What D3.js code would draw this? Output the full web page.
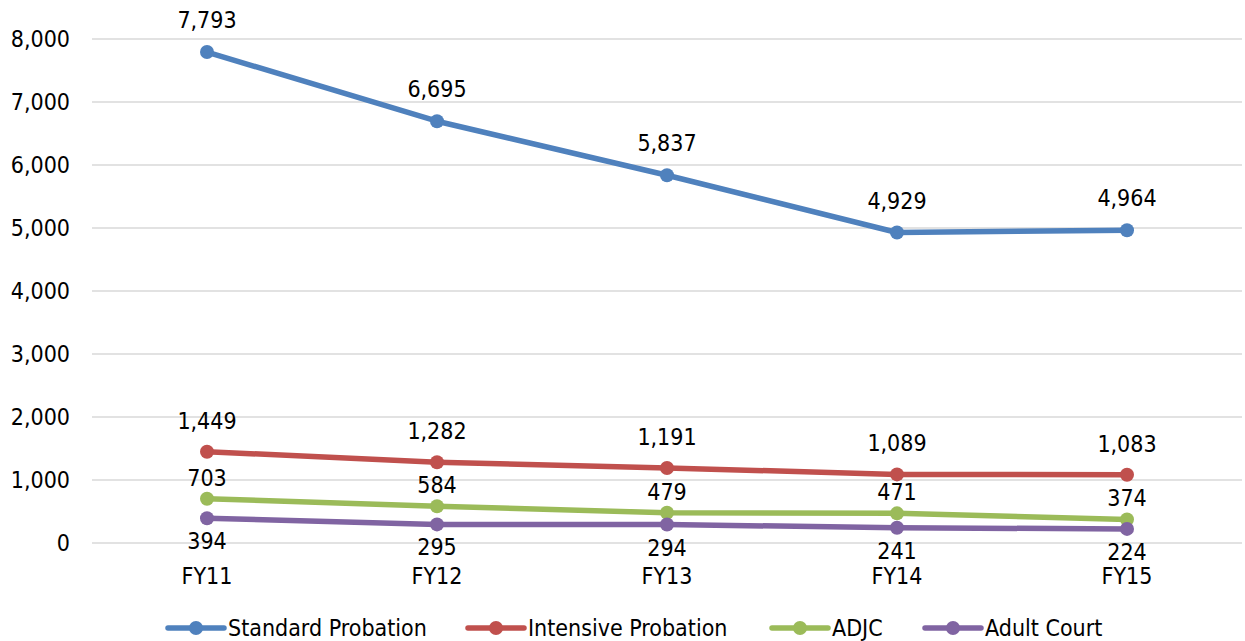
<!DOCTYPE html>
<html>
<head>
<meta charset="utf-8">
<script src="https://cdn.jsdelivr.net/npm/d3@7"></script>
<style>
  html, body { margin: 0; padding: 0; background: #fff; }
  svg { display: block; }
  svg text { font-family: "DejaVu Sans Condensed", "DejaVu Sans", sans-serif; font-stretch: condensed; }
</style>
</head>
<body>
<svg id="chart" width="1245" height="641"></svg>
<script>
// Caseload counts by fiscal year
const years = ["FY11", "FY12", "FY13", "FY14", "FY15"];
const standardProbation = [7793, 6695, 5837, 4929, 4964];
const intensiveProbation = [1449, 1282, 1191, 1089, 1083];
const adjc = [703, 584, 479, 471, 374];
const adultCourt = [394, 295, 294, 241, 224];
const yTicks = [0, 1000, 2000, 3000, 4000, 5000, 6000, 7000, 8000];

const series = [
  { name: "Standard Probation", values: standardProbation, color: "#4F81BD", dy: -32 },
  { name: "Intensive Probation", values: intensiveProbation, color: "#C0504D", dy: -31 },
  { name: "ADJC", values: adjc, color: "#9BBB59", dy: -21 },
  { name: "Adult Court", values: adultCourt, color: "#8064A2", dy: 23 }
];

const fontSize = 23;
const svg = d3.select("#chart");
const plotLeft = 92, plotRight = 1242, plotTop = 39, plotBottom = 543;

const x = d3.scaleBand().domain(years).range([plotLeft, plotRight]);
const y = d3.scaleLinear().domain([0, 8000]).range([plotBottom, plotTop]);
const fmt = d3.format(",");

// Gridlines
svg.append("g")
  .selectAll("line")
  .data(yTicks)
  .join("line")
  .attr("x1", plotLeft).attr("x2", plotRight)
  .attr("y1", d => y(d)).attr("y2", d => y(d))
  .attr("stroke", "#d9d9d9").attr("stroke-width", 1.5);

// Y axis labels
const yAxis = svg.append("g")
  .attr("transform", `translate(${plotLeft - 22},0)`)
  .call(d3.axisLeft(y).tickValues(yTicks).tickFormat(fmt).tickSize(0).tickPadding(0));
yAxis.select(".domain").remove();
yAxis.selectAll("text")
  .attr("font-size", fontSize).attr("fill", "#000")
  .attr("font-family", null);

// X axis labels
const xAxis = svg.append("g")
  .attr("transform", `translate(0,576)`)
  .call(d3.axisBottom(x).tickSize(0).tickPadding(0));
xAxis.select(".domain").remove();
xAxis.selectAll("text")
  .attr("dy", "0.35em")
  .attr("font-size", fontSize).attr("fill", "#000")
  .attr("font-family", null);

const cx = d => x(d) + x.bandwidth() / 2;
const line = d3.line().x(d => cx(d.year)).y(d => y(d.value));

series.forEach(s => {
  const pts = years.map((yr, i) => ({ year: yr, value: s.values[i] }));
  const g = svg.append("g");
  g.append("path")
    .datum(pts)
    .attr("d", line)
    .attr("fill", "none")
    .attr("stroke", s.color)
    .attr("stroke-width", 5.5)
    .attr("stroke-linejoin", "round")
    .attr("stroke-linecap", "round");
  g.selectAll("circle")
    .data(pts)
    .join("circle")
    .attr("cx", d => cx(d.year))
    .attr("cy", d => y(d.value))
    .attr("r", 7)
    .attr("fill", s.color);
  g.selectAll("text")
    .data(pts)
    .join("text")
    .attr("x", d => cx(d.year))
    .attr("y", d => y(d.value) + s.dy)
    .attr("dy", "0.35em")
    .attr("text-anchor", "middle")
    .attr("font-size", fontSize)
    .attr("fill", "#000")
    .text(d => fmt(d.value));
});

// Legend
const legendX = [168, 468, 772, 925];
const legendY = 628;
const lg = svg.append("g");
series.forEach((s, i) => {
  const item = lg.append("g").attr("transform", `translate(${legendX[i]},${legendY})`);
  item.append("line")
    .attr("x1", 0).attr("x2", 56).attr("y1", 0).attr("y2", 0)
    .attr("stroke", s.color).attr("stroke-width", 5.5).attr("stroke-linecap", "round");
  item.append("circle").attr("cx", 28).attr("cy", 0).attr("r", 7).attr("fill", s.color);
  item.append("text")
    .attr("x", 60).attr("y", 0).attr("dy", "0.35em")
    .attr("font-size", fontSize).attr("fill", "#000")
    .text(s.name);
});
</script>
</body>
</html>
